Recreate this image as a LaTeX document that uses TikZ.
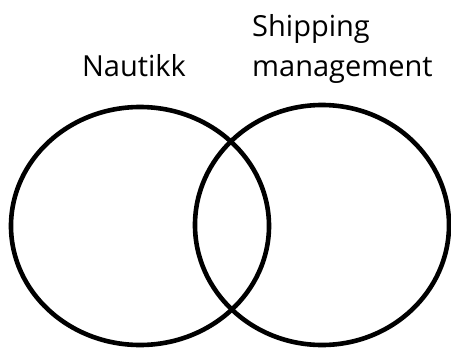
\documentclass[tikz,border=0pt]{standalone}
\usepackage{fontspec}
\setmainfont{Open Sans}
\usepackage{tikz}
\usetikzlibrary{shapes.geometric}

\begin{document}
\begin{tikzpicture}[x=1pt,y=-1pt,
    set/.style={draw, ellipse, line width=4.6pt, inner sep=0pt},
    setlabel/.style={font=\fontsize{29}{40}\selectfont, inner sep=0pt}]
    \useasboundingbox (0,0) rectangle (451,349);

    % the two sets
    \node [set, minimum width=258pt, minimum height=238pt] (nautikk) at (140,226) {};
    \node [set, minimum width=254pt, minimum height=240pt] (shipping) at (322,225) {};

    % labels (base of the last line)
    \node [setlabel, anchor=base] (nautikkLabel) at (134,76) {Nautikk};
    \node [setlabel, anchor=base west, align=left] (shippingLabel) at (252,76) {Shipping\\management};
\end{tikzpicture}
\end{document}
